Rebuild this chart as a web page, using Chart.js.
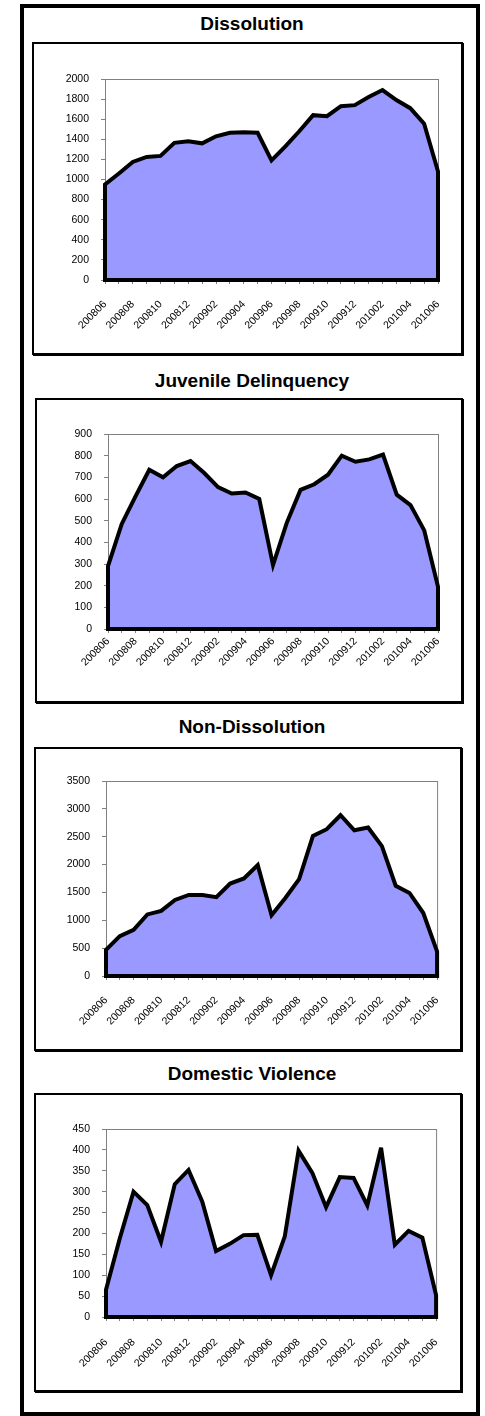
<!DOCTYPE html>
<html>
<head>
<meta charset="utf-8">
<script src="https://cdn.jsdelivr.net/npm/chart.js@4.4.1/dist/chart.umd.min.js"></script>
<style>
  body { margin: 0; width: 485px; height: 1416px; background: #fff; position: relative; overflow: hidden; font-family: Arial, "Liberation Sans", sans-serif; }
  .frame { position: absolute; left: 20px; top: 4px; width: 460px; height: 1412px; border: 4px solid #000; box-sizing: border-box; }
  .title { position: absolute; left: 24px; width: 456px; text-align: center; font-weight: bold; font-size: 19px; line-height: 19px; color: #000; }
  .box { position: absolute; border: 2px solid #000; box-shadow: 1px 1px 0 #000; box-sizing: border-box; background: #fff; }
  canvas { position: absolute; }
</style>
</head>
<body>
<div class="frame"></div>
<script>
const months = ['200806', '200807', '200808', '200809', '200810', '200811', '200812',
                '200901', '200902', '200903', '200904', '200905', '200906', '200907', '200908',
                '200909', '200910', '200911', '200912', '201001', '201002', '201003', '201004',
                '201005', '201006'];

const dissolution = [950, 1060, 1175, 1225, 1235, 1365, 1380, 1360, 1430, 1465, 1470, 1465, 1190,
                     1330, 1480, 1640, 1630, 1730, 1740, 1820, 1890, 1790, 1710, 1555, 1080];
const juvenile = [290, 485, 612, 735, 700, 752, 775, 720, 655, 625, 630, 600, 295,
                  490, 642, 668, 712, 800, 772, 783, 805, 620, 572, 455, 195];
const nonDissolution = [470, 715, 830, 1105, 1170, 1365, 1455, 1455, 1415, 1660, 1750, 1990, 1090,
                        1400, 1740, 2515, 2635, 2885, 2615, 2665, 2330, 1620, 1490, 1130, 440];
const domestic = [65, 188, 300, 268, 180, 318, 352, 276, 158, 175, 196, 197, 100,
                  193, 398, 345, 263, 335, 333, 267, 405, 173, 206, 190, 52];

const titles = ['Dissolution', 'Juvenile Delinquency', 'Non-Dissolution', 'Domestic Violence'];
const series = [dissolution, juvenile, nonDissolution, domestic];
const yMax = [2000, 900, 3500, 450];
const yStep = [200, 100, 500, 50];

// page geometry: title top, panel box [x0,y0,x1,y1], plot area [l,t,r,b], gap under x ticks
const layout = [
  { titleTop: 14,   box: [32, 42, 464, 356],   plot: [105, 79, 438, 280],    xPad: 14 },
  { titleTop: 371,  box: [35, 398, 464, 704],  plot: [108, 434, 438, 629],   xPad: 2 },
  { titleTop: 717,  box: [34, 747, 463, 1052], plot: [106, 781, 438, 976],   xPad: 14 },
  { titleTop: 1064, box: [34, 1093, 463, 1393], plot: [106, 1129, 437, 1317], xPad: 15 }
];

Chart.defaults.font.family = 'Arial, "Liberation Sans", sans-serif';
Chart.defaults.color = '#000';

// gray plot border, then the thick black outline round the whole filled area
const areaOutline = {
  id: 'areaOutline',
  beforeDatasetsDraw(chart) {
    const { ctx, chartArea: a } = chart;
    ctx.save();
    ctx.strokeStyle = '#808080';
    ctx.lineWidth = 1;
    ctx.strokeRect(a.left + 0.5, a.top + 0.5, a.right - a.left, a.bottom - a.top);
    ctx.restore();
  },
  afterDatasetsDraw(chart) {
    const { ctx } = chart;
    const pts = chart.getDatasetMeta(0).data;
    const base = chart.scales.y.getPixelForValue(0);
    ctx.save();
    ctx.beginPath();
    ctx.moveTo(pts[0].x, base);
    pts.forEach(p => ctx.lineTo(p.x, p.y));
    ctx.lineTo(pts[pts.length - 1].x, base);
    ctx.closePath();
    ctx.strokeStyle = '#000';
    ctx.lineWidth = 4;
    ctx.lineJoin = 'miter';
    ctx.miterLimit = 4;
    ctx.stroke();
    ctx.restore();
  }
};

layout.forEach((L, i) => {
  const t = document.createElement('div');
  t.className = 'title';
  t.style.top = L.titleTop + 'px';
  t.textContent = titles[i];
  document.body.appendChild(t);

  const [bx0, by0, bx1, by1] = L.box;
  const box = document.createElement('div');
  box.className = 'box';
  box.style.left = bx0 + 'px';
  box.style.top = by0 + 'px';
  box.style.width = (bx1 - bx0 - 1) + 'px';
  box.style.height = (by1 - by0 - 1) + 'px';
  document.body.appendChild(box);

  const cx0 = bx0 + 2, cy0 = by0 + 2, cx1 = bx1 - 3, cy1 = by1 - 3;
  const cv = document.createElement('canvas');
  cv.width = cx1 - cx0;
  cv.height = cy1 - cy0;
  cv.style.left = cx0 + 'px';
  cv.style.top = cy0 + 'px';
  document.body.appendChild(cv);

  const [pl, pt, pr, pb] = L.plot;

  new Chart(cv.getContext('2d'), {
    type: 'line',
    data: {
      labels: months,
      datasets: [{
        data: series[i],
        fill: 'origin',
        backgroundColor: '#9999ff',
        borderWidth: 0,
        pointRadius: 0,
        tension: 0
      }]
    },
    options: {
      responsive: false,
      animation: false,
      devicePixelRatio: 1,
      layout: { padding: { left: 0, top: pt - cy0, right: cx1 - pr, bottom: 0 } },
      plugins: { legend: { display: false }, tooltip: { enabled: false } },
      scales: {
        x: {
          offset: false,
          grid: { drawOnChartArea: false, tickLength: 4, color: '#808080' },
          border: { color: '#808080' },
          ticks: {
            autoSkip: false, maxRotation: 45, minRotation: 45, padding: L.xPad,
            font: { size: 10.5 },
            callback: (v, idx) => idx % 2 === 0 ? months[idx] : ''
          },
          afterFit: s => { s.height = cy1 - pb; }
        },
        y: {
          min: 0, max: yMax[i],
          grid: { drawOnChartArea: false, tickLength: 4, color: '#808080' },
          border: { color: '#808080' },
          ticks: { stepSize: yStep[i], padding: 12, font: { size: 10.5 }, callback: v => String(v) },
          afterFit: s => { s.width = pl - cx0; }
        }
      }
    },
    plugins: [areaOutline]
  });
});
</script>
</body>
</html>
